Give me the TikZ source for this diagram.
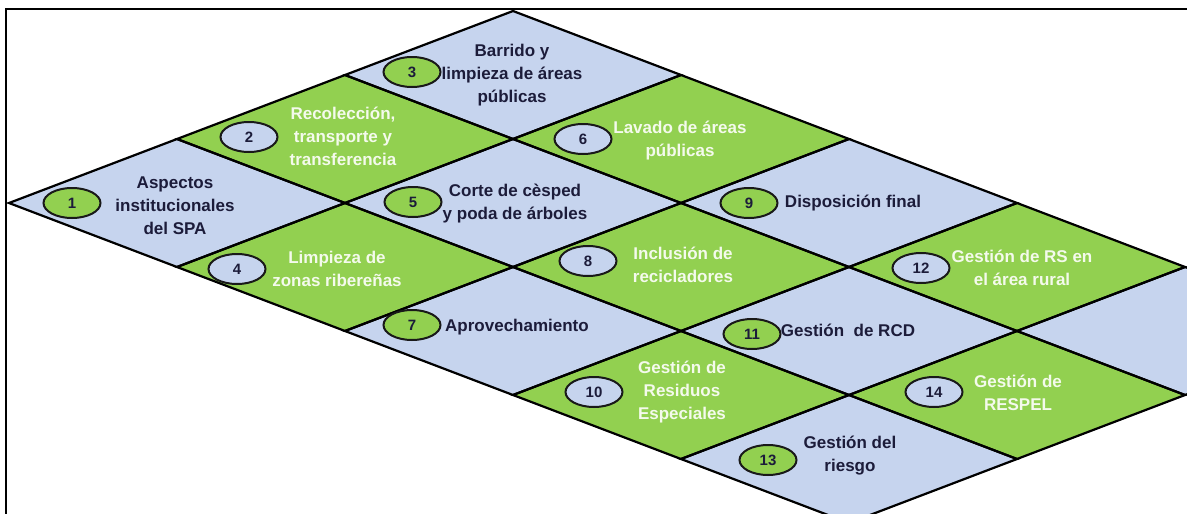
\documentclass[tikz,border=0pt]{standalone}
\usepackage{fontspec}
\setmainfont{Liberation Sans}
\usetikzlibrary{shapes.geometric,calc}
\definecolor{tileblue}{RGB}{198,212,238}
\definecolor{tilegreen}{RGB}{146,208,80}
\definecolor{darktext}{RGB}{28,28,58}
\definecolor{lighttext}{RGB}{244,250,236}
\begin{document}
\begin{tikzpicture}[x=1pt,y=-1pt,
  tileline/.style={line width=2.2pt,line join=miter,draw=black},
  badge/.style={ellipse,draw=black!90,line width=2pt,minimum width=57pt,minimum height=30pt,inner sep=0pt,font=\fontsize{15}{15}\selectfont\bfseries,text=darktext},
  onblue/.style={align=center,font=\fontsize{17}{23}\selectfont\bfseries,text=darktext,inner sep=0pt},
  ongreen/.style={align=center,font=\fontsize{17}{23}\selectfont\bfseries,text=lighttext,inner sep=0pt}]
\useasboundingbox (0,0) rectangle (1187,514);
\clip (0,0) rectangle (1187,514);
\fill[white] (0,0) rectangle (1187,514);
\coordinate (O) at (9,203);
% tiles
\foreach \i/\j/\c in {0/0/tileblue,1/0/tilegreen,2/0/tileblue,
                      0/1/tilegreen,1/1/tileblue,2/1/tilegreen,
                      0/2/tileblue,1/2/tilegreen,2/2/tileblue,
                      0/3/tilegreen,1/3/tileblue,2/3/tilegreen,
                      0/4/tileblue,1/4/tilegreen,2/4/tileblue}{
  \coordinate (L\i\j) at ($(O)+\i*(168,-64)+\j*(168,64)$);
  \fill[\c] (L\i\j) -- ++(168,-64) -- ++(168,64) -- ++(-168,64) -- cycle;
}
\foreach \i/\j in {0/0,1/0,2/0,0/1,1/1,2/1,0/2,1/2,2/2,0/3,1/3,2/3,0/4,1/4,2/4}{
  \draw[tileline] (L\i\j) -- ++(168,-64) -- ++(168,64) -- ++(-168,64) -- cycle;
}
% frame
\draw[line width=2.2pt] (6,9) rectangle (1300,600);
% badges
\node[badge,fill=tilegreen] (b1) at (72,203) {1};
\node[badge,fill=tileblue] (b2) at (249,137) {2};
\node[badge,fill=tilegreen] (b3) at (412,72) {3};
\node[badge,fill=tileblue] (b4) at (237,269) {4};
\node[badge,fill=tilegreen] (b5) at (413,202) {5};
\node[badge,fill=tileblue] (b6) at (583,139) {6};
\node[badge,fill=tilegreen] (b7) at (412,325) {7};
\node[badge,fill=tileblue] (b8) at (588,261) {8};
\node[badge,fill=tilegreen] (b9) at (749,203) {9};
\node[badge,fill=tileblue] (b10) at (594,392) {10};
\node[badge,fill=tilegreen] (b11) at (752,334) {11};
\node[badge,fill=tileblue] (b12) at (921,268) {12};
\node[badge,fill=tilegreen] (b13) at (768,460) {13};
\node[badge,fill=tileblue] (b14) at (934,392) {14};
% labels
\node[onblue] (t1) at (175,206) {Aspectos\\institucionales\\del SPA};
\node[ongreen] (t2) at (343,136) {Recolección,\\transporte y\\transferencia};
\node[onblue] (t3) at (512,75) {Barrido y\\limpieza de áreas\\públicas};
\node[ongreen] (t4) at (337,269) {Limpieza de\\zonas ribereñas};
\node[onblue] (t5) at (515,204) {Corte de cèsped\\y poda de árboles};
\node[ongreen] (t6) at (680,141) {Lavado de áreas\\públicas};
\node[onblue] (t7) at (517,327) {Aprovechamiento};
\node[ongreen] (t8) at (683,265) {Inclusión de\\recicladores};
\node[onblue] (t9) at (853,203) {Disposición final};
\node[ongreen] (t10) at (682,392) {Gestión de\\Residuos\\Especiales};
\node[onblue] (t11) at (848,330) {Gestión\ \ de RCD};
\node[ongreen] (t12) at (1022,268) {Gestión de RS en\\el área rural};
\node[onblue] (t13) at (850,456) {Gestión del\\riesgo};
\node[ongreen] (t14) at (1018,393) {Gestión de\\RESPEL};
\end{tikzpicture}
\end{document}
